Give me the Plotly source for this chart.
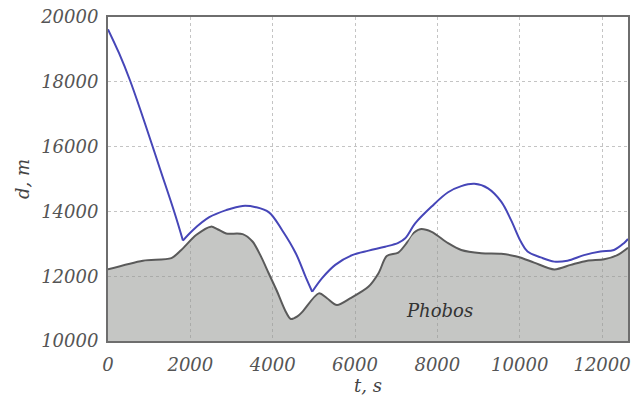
import plotly.graph_objects as go

# Phobos surface profile (gray terrain)
t_surf = [0, 850, 1540, 1780, 2140, 2500, 2660, 2870, 3270, 3510, 3700, 3900, 4100, 4300, 4440, 4600, 4720,
          5120, 5320, 5560, 5890, 6330, 6570, 6770, 7050, 7250, 7370, 7580, 7860, 8260, 8580,
          9070, 9550, 9950, 10350, 10840, 11240, 11640, 12050, 12370, 12630]
d_surf = [12210, 12480, 12560, 12810, 13270, 13530, 13450, 13320, 13300, 13070, 12650, 12100, 11550, 10950, 10680, 10760, 10900,
          11470, 11320, 11110, 11320, 11680, 12090, 12620, 12730, 13020, 13270, 13450, 13370, 13020, 12810,
          12710, 12690, 12600, 12420, 12210, 12350, 12480, 12520, 12650, 12880]

# Spacecraft distance (blue), three arcs joined at two kinks
t_sc = [0, 266, 531, 894, 1256, 1618, 1820,
        2060, 2460, 2870, 3270, 3590, 3910, 4230, 4560, 4800, 4960,
        5200, 5520, 5930, 6330, 6730, 7050, 7220, 7460, 7860, 8260, 8580, 8900, 9230, 9550, 9790,
        10030, 10190, 10510, 10840, 11160, 11560, 11960, 12290, 12530, 12630]
d_sc = [19620, 18890, 18056, 16730, 15340, 13950, 13100,
        13420, 13820, 14040, 14170, 14130, 13970, 13420, 12710, 11980, 11520,
        11940, 12350, 12650, 12790, 12910, 13030, 13170, 13630, 14150, 14590, 14780, 14850, 14710, 14300, 13730,
        13060, 12760, 12580, 12450, 12480, 12650, 12760, 12810, 13020, 13150]
kinks = [1820, 4960]

x_ticks = [0, 2000, 4000, 6000, 8000, 10000, 12000]
y_ticks = [10000, 12000, 14000, 16000, 18000, 20000]

FONT = "DejaVu Serif"

fig = go.Figure()
fig.add_trace(go.Scatter(
    x=t_surf, y=d_surf, mode="lines", fill="tozeroy",
    fillcolor="rgba(150,152,148,0.55)",
    line=dict(color="#5a5a5a", width=2, shape="spline", smoothing=0.8),
    hoverinfo="skip", showlegend=False))

# split blue curve at kinks
bounds = [0] + [t_sc.index(k) for k in kinks] + [len(t_sc) - 1]
segments = [(t_sc[a:b + 1], d_sc[a:b + 1]) for a, b in zip(bounds[:-1], bounds[1:])]
for xs, ys in segments:
    fig.add_trace(go.Scatter(
        x=xs, y=ys, mode="lines",
        line=dict(color="white", width=6, shape="spline", smoothing=1),
        hoverinfo="skip", showlegend=False))
for xs, ys in segments:
    fig.add_trace(go.Scatter(
        x=xs, y=ys, mode="lines",
        line=dict(color="#4646b8", width=2, shape="spline", smoothing=1),
        showlegend=False))

fig.add_annotation(x=8050, y=10950, text="Phobos", showarrow=False,
                   font=dict(family=FONT, size=18, color="#333333", style="italic"))

axis_common = dict(
    showgrid=True, gridcolor="#c4c4c4", griddash="dot", gridwidth=1,
    showline=True, linecolor="#6e6e6e", linewidth=2, mirror=True,
    ticks="", zeroline=False,
    tickfont=dict(family=FONT, size=18, color="#555555", style="italic"),
)

fig.update_xaxes(range=[0, 12630], tickvals=x_ticks,
                 ticktext=[str(v) for v in x_ticks], ticklabelstandoff=6,
                 title=dict(text="t, s", font=dict(family=FONT, size=18, color="#444444", style="italic"), standoff=0),
                 **axis_common)
fig.update_yaxes(range=[10000, 20000], tickvals=y_ticks,
                 ticktext=[str(v) for v in y_ticks], ticklabelstandoff=4,
                 title=dict(text="d, m", font=dict(family=FONT, size=18, color="#444444", style="italic"), standoff=6),
                 **axis_common)

fig.update_layout(
    width=634, height=398,
    margin=dict(l=108, r=3, t=17, b=57),
    paper_bgcolor="white", plot_bgcolor="white",
    font=dict(family=FONT),
)

fig.write_html("out.html")
